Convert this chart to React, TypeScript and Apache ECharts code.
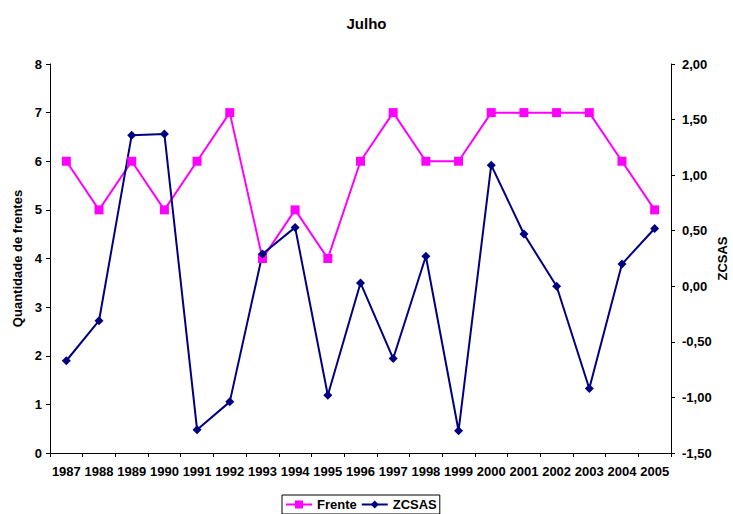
import React, { useEffect, useRef } from "react";
import * as echarts from "echarts";

const years = ["1987","1988","1989","1990","1991","1992","1993","1994","1995","1996","1997","1998","1999","2000","2001","2002","2003","2004","2005"];
const frente = [6, 5, 6, 5, 6, 7, 4, 5, 4, 6, 7, 6, 6, 7, 7, 7, 7, 6, 5];
const zcsas = [-0.67, -0.31, 1.36, 1.37, -1.29, -1.04, 0.29, 0.53, -0.98, 0.03, -0.65, 0.27, -1.3, 1.09, 0.47, 0.0, -0.92, 0.2, 0.52];

const FONT = "Arial, 'Liberation Sans', sans-serif";

export default function App() {
  const ref = useRef<HTMLDivElement>(null);
  useEffect(() => {
    if (!ref.current) return;
    const chart = echarts.init(ref.current, undefined, { renderer: "svg" });
    const axisText = { color: "#000000", fontWeight: "bold" as const, fontSize: 13, fontFamily: FONT };
    chart.setOption({
      animation: false,
      backgroundColor: "#fff",
      title: {
        text: "Julho",
        left: "center",
        top: 11,
        textStyle: { color: "#000", fontWeight: "bold", fontSize: 15, fontFamily: FONT },
      },
      grid: { left: 50, right: 62, top: 64, bottom: 61, containLabel: false, outerBoundsMode: "none" },
      legend: {
        top: 495,
        left: 282,
        padding: [3, 3, 3, 3],
        borderColor: "#000",
        borderWidth: 1,
        itemWidth: 26,
        itemHeight: 10,
        itemGap: 4,
        textStyle: { color: "#000", fontWeight: "bold", fontSize: 13, fontFamily: FONT },
        data: ["Frente", "ZCSAS"],
      },
      xAxis: {
        type: "category",
        data: years,
        boundaryGap: true,
        axisLine: { lineStyle: { color: "#000", width: 1 } },
        axisTick: { show: true, length: 4, lineStyle: { color: "#000" } },
        axisLabel: { ...axisText, interval: 0, margin: 12 },
      },
      yAxis: [
        {
          type: "value",
          min: 0,
          max: 8,
          interval: 1,
          position: "left",
          name: "Quantidade de frentes",
          nameLocation: "middle",
          nameRotate: 90,
          nameGap: 26,
          nameMoveOverlap: false,
          nameTextStyle: { ...axisText },
          axisLine: { show: true, lineStyle: { color: "#000" } },
          axisTick: { show: true, length: 4, lineStyle: { color: "#000" } },
          axisLabel: { ...axisText, margin: 8 },
          splitLine: { show: false },
        },
        {
          type: "value",
          min: -1.5,
          max: 2,
          interval: 0.5,
          position: "right",
          name: "ZCSAS",
          nameLocation: "middle",
          nameRotate: 90,
          nameGap: 45,
          nameMoveOverlap: false,
          nameTextStyle: { ...axisText },
          axisLine: { show: true, lineStyle: { color: "#000" } },
          axisTick: { show: true, length: 4, lineStyle: { color: "#000" } },
          axisLabel: {
            ...axisText,
            margin: 11,
            formatter: (v: number) => v.toFixed(2).replace(".", ","),
          },
          splitLine: { show: false },
        },
      ],
      series: [
        {
          name: "Frente",
          type: "line",
          yAxisIndex: 0,
          data: frente,
          symbol: "rect",
          symbolSize: 9,
          lineStyle: { color: "#FF00FF", width: 2 },
          itemStyle: { color: "#FF00FF" },
        },
        {
          name: "ZCSAS",
          type: "line",
          yAxisIndex: 1,
          data: zcsas,
          symbol: "diamond",
          symbolSize: 9,
          lineStyle: { color: "#000080", width: 2 },
          itemStyle: { color: "#000080" },
        },
      ],
    });
    return () => chart.dispose();
  }, []);
  return <div ref={ref} style={{ width: 733, height: 514, position: "absolute", left: 0, top: 0 }} />;
}
